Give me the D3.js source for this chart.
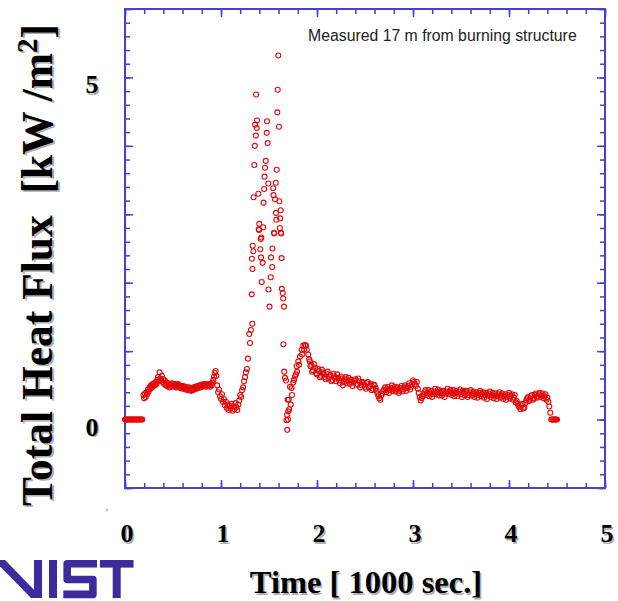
<!DOCTYPE html>
<html>
<head>
<meta charset="utf-8">
<script src="https://cdnjs.cloudflare.com/ajax/libs/d3/7.8.5/d3.min.js"></script>
<style>
  body { margin: 0; background: #fff; }
  svg { display: block; }
</style>
</head>
<body>
<div id="chart"></div>
<script>
// sample times, seconds
var timeSec = [
  0, 10, 20, 30, 40, 50, 60, 70, 80, 90, 100, 110, 120, 130, 140, 150, 160, 170, 180,
  192, 200, 208, 216, 224, 232, 240, 248, 256, 264,
  272, 280, 288, 296, 304, 312, 320, 328, 336, 344,
  352, 360, 368, 376, 384, 392, 400, 408, 416, 424,
  432, 440, 448, 456, 464, 472, 480, 488, 496, 504,
  512, 520, 528, 536, 544, 552, 560, 568, 576, 584,
  592, 600, 608, 616, 624, 632, 640, 648, 656, 664,
  672, 680, 688, 696, 704, 712, 720, 728, 736, 744,
  752, 760, 768, 776, 784, 792, 800, 808, 816, 824,
  832, 840, 848, 856, 864, 872, 880, 888, 896, 904,
  912, 920, 928, 936, 944, 952,
  960, 970, 980, 990, 1000, 1010, 1020, 1030, 1040, 1050, 1060, 1070, 1080, 1090, 1100,
  1110, 1120, 1130, 1140, 1150, 1160, 1170, 1180, 1190, 1200, 1210, 1220, 1230, 1240,
  1250, 1260, 1270, 1280,
  1295, 1302, 1312, 1320, 1322, 1326, 1328, 1330, 1337, 1339, 1347, 1352, 1356, 1363,
  1366, 1372, 1375, 1389, 1393, 1396, 1399, 1409, 1414, 1417, 1420, 1424, 1434, 1440,
  1443, 1450, 1453, 1458, 1466, 1476, 1479, 1486, 1493, 1495, 1505, 1518, 1521, 1534,
  1536, 1544, 1547, 1552, 1555, 1563, 1571, 1573, 1576, 1580, 1587, 1591, 1597, 1604,
  1607, 1613, 1616, 1621, 1624, 1627, 1631, 1634, 1643, 1648, 1650, 1656, 1658, 1667, 1677,
  1682, 1688, 1690, 1694, 1698, 1701, 1706, 1711, 1719, 1726, 1736, 1740, 1753, 1760,
  1771, 1781, 1788, 1792, 1805, 1813, 1823, 1841, 1844, 1857, 1865, 1875, 1885, 1893,
  1909, 1918, 1927, 1932,
  1940, 1950, 1960, 1970, 1980, 1990, 2000, 2010, 2020, 2030, 2040, 2050, 2060, 2070, 2080, 2090, 2100, 2110, 2120, 2130,
  2140, 2150, 2160, 2170, 2180, 2190, 2200, 2210, 2220, 2230, 2240, 2250, 2260, 2270, 2280, 2290, 2300, 2310, 2320, 2330,
  2340, 2350, 2360, 2370, 2380, 2390, 2400, 2410, 2420, 2430, 2440, 2450, 2460, 2470, 2480, 2490, 2500, 2510, 2520, 2530,
  2540, 2550, 2560, 2570, 2580, 2590, 2600, 2610, 2620, 2630, 2640, 2650, 2660, 2670, 2680, 2690, 2700, 2710, 2720, 2730,
  2740, 2750, 2760, 2770, 2780, 2790, 2800, 2810, 2820, 2830, 2840, 2850, 2860, 2870, 2880, 2890, 2900, 2910, 2920, 2930,
  2940, 2950, 2960, 2970, 2980, 2990, 3000, 3010, 3020, 3030, 3040, 3050, 3060, 3070, 3080, 3090, 3100, 3110, 3120, 3130,
  3140, 3150, 3160, 3170, 3180, 3190, 3200, 3210, 3220, 3230, 3240, 3250, 3260, 3270, 3280, 3290, 3300, 3310, 3320, 3330,
  3340, 3350, 3360, 3370, 3380, 3390, 3400, 3410, 3420, 3430, 3440, 3450, 3460, 3470, 3480, 3490, 3500, 3510, 3520, 3530,
  3540, 3550, 3560, 3570, 3580, 3590, 3600, 3610, 3620, 3630, 3640, 3650, 3660, 3670, 3680, 3690, 3700, 3710, 3720, 3730,
  3740, 3750, 3760, 3770, 3780, 3790, 3800, 3810, 3820, 3830, 3840, 3850, 3860, 3870, 3880, 3890, 3900, 3910, 3920, 3930,
  3940, 3950, 3960, 3970, 3980, 3990, 4000, 4010, 4020, 4030, 4040, 4050, 4060, 4070, 4080, 4090, 4100, 4110, 4120, 4130,
  4140, 4150, 4160, 4170, 4180, 4190, 4200, 4210, 4220, 4230, 4240, 4250, 4260, 4270, 4280, 4290, 4300, 4310, 4320, 4330,
  4340, 4350, 4360, 4370, 4380, 4390, 4400,
  4410, 4420, 4430,
  4440, 4450, 4460, 4470, 4480, 4490, 4500
];

// total heat flux, kW/m2
var fluxKW = [
  0, 0, 0, 0, 0, 0, 0, 0, 0, 0, 0, 0, 0, 0, 0, 0, 0, 0, 0,
  0.36, 0.31, 0.38, 0.33, 0.40, 0.37, 0.44, 0.41, 0.47, 0.45,
  0.50, 0.47, 0.52, 0.49, 0.53, 0.50, 0.55, 0.52, 0.58, 0.62,
  0.56, 0.69, 0.60, 0.57, 0.64, 0.55, 0.59, 0.52, 0.57, 0.50,
  0.54, 0.49, 0.53, 0.50, 0.47, 0.52, 0.49, 0.53, 0.50, 0.48,
  0.52, 0.49, 0.51, 0.47, 0.50, 0.52, 0.48, 0.50, 0.46, 0.49,
  0.47, 0.45, 0.49, 0.46, 0.48, 0.44, 0.47, 0.45, 0.43, 0.47,
  0.44, 0.46, 0.42, 0.45, 0.43, 0.47, 0.44, 0.46, 0.48, 0.45,
  0.49, 0.46, 0.48, 0.50, 0.47, 0.49, 0.51, 0.48, 0.50, 0.52,
  0.49, 0.51, 0.48, 0.50, 0.52, 0.49, 0.51, 0.48, 0.52, 0.50,
  0.54, 0.58, 0.63, 0.68, 0.71, 0.64,
  0.50, 0.40, 0.44, 0.34, 0.30, 0.37, 0.26, 0.30, 0.21, 0.26, 0.17, 0.22, 0.14, 0.20, 0.16,
  0.23, 0.13, 0.19, 0.15, 0.24, 0.18, 0.14, 0.22, 0.28, 0.36, 0.33, 0.43, 0.47, 0.56,
  0.62, 0.69, 0.74, 0.89,
  1.25, 1.12, 1.31, 1.83, 2.35, 1.40, 2.20, 2.54, 2.46, 3.25, 3.72, 4.00, 4.31, 4.15,
  4.75, 4.26, 4.37, 3.30, 2.78, 2.77, 2.86, 2.49, 2.64, 2.37, 2.66, 2.01, 2.29, 2.81,
  3.17, 3.37, 3.55, 3.68, 3.78, 4.19, 4.36, 4.04, 3.45, 1.90, 1.65, 2.08, 2.37, 2.23,
  2.50, 3.38, 3.28, 2.73, 2.72, 3.22, 3.46, 3.02, 2.92, 3.65, 4.49, 4.82, 5.32, 4.28,
  3.19, 2.80, 2.94, 3.06, 2.73, 2.72, 2.36, 1.91, 1.85, 1.77, 1.10, 1.65, 0.70, 0.61, 0.57,
  -0.01, 0.07, -0.15, 0.29, 0.00, 0.12, 0.29, 0.15, 0.48, 0.22, 0.46, 0.36, 0.54, 0.58,
  0.63, 0.66, 0.78, 0.70, 0.85, 0.80, 0.92, 1.02, 0.95, 1.08, 1.02, 1.09, 1.08, 1.02,
  0.95, 0.88, 0.85, 0.78,
  0.80, 0.70, 0.72, 0.81, 0.76, 0.68, 0.66, 0.74, 0.71, 0.62, 0.64, 0.73, 0.69, 0.66, 0.62, 0.59, 0.67, 0.70, 0.60, 0.63,
  0.65, 0.56, 0.58, 0.67, 0.63, 0.60, 0.56, 0.66, 0.61, 0.57, 0.53, 0.63, 0.60, 0.50, 0.55, 0.59, 0.62, 0.53, 0.57, 0.61,
  0.52, 0.55, 0.58, 0.49, 0.54, 0.57, 0.59, 0.52, 0.51, 0.60, 0.56, 0.47, 0.50, 0.54, 0.55, 0.51, 0.48, 0.45, 0.53, 0.55,
  0.47, 0.49, 0.52, 0.43, 0.45, 0.51, 0.50, 0.46, 0.42, 0.38, 0.34, 0.31, 0.29, 0.35, 0.38, 0.42, 0.44, 0.47, 0.40, 0.44,
  0.48, 0.39, 0.43, 0.46, 0.50, 0.42, 0.45, 0.48, 0.41, 0.44, 0.47, 0.39, 0.42, 0.46, 0.49, 0.41, 0.44, 0.47, 0.50, 0.42,
  0.46, 0.49, 0.53, 0.44, 0.48, 0.52, 0.57, 0.55, 0.52, 0.49, 0.55, 0.45, 0.39, 0.33, 0.28, 0.31, 0.34, 0.37, 0.40, 0.43,
  0.36, 0.39, 0.43, 0.34, 0.38, 0.42, 0.33, 0.37, 0.41, 0.45, 0.37, 0.40, 0.44, 0.35, 0.39, 0.42, 0.35, 0.38, 0.42, 0.33,
  0.38, 0.41, 0.45, 0.37, 0.40, 0.43, 0.36, 0.39, 0.43, 0.34, 0.39, 0.42, 0.34, 0.38, 0.41, 0.44, 0.37, 0.33, 0.42, 0.39,
  0.35, 0.42, 0.40, 0.33, 0.36, 0.40, 0.43, 0.35, 0.38, 0.41, 0.33, 0.37, 0.40, 0.32, 0.36, 0.39, 0.42, 0.34, 0.37, 0.40,
  0.32, 0.36, 0.39, 0.30, 0.35, 0.38, 0.41, 0.33, 0.36, 0.39, 0.31, 0.35, 0.38, 0.30, 0.34, 0.37, 0.40, 0.32, 0.35, 0.38,
  0.30, 0.34, 0.37, 0.29, 0.33, 0.36, 0.39, 0.31, 0.34, 0.37, 0.29, 0.32, 0.36, 0.25, 0.27, 0.23, 0.20, 0.18, 0.15, 0.21,
  0.23, 0.16, 0.18, 0.24, 0.28, 0.31, 0.33, 0.27, 0.29, 0.34, 0.36, 0.29, 0.31, 0.36, 0.38, 0.32, 0.34, 0.37, 0.39, 0.33,
  0.35, 0.38, 0.31, 0.34, 0.37, 0.29, 0.32,
  0.26, 0.19, 0.10,
  0, 0, 0, 0, 0, 0, 0
];

var xTickLabels = [0, 1, 2, 3, 4, 5];   // thousands of seconds
var yTickLabels = [0, 5];
var xTitle = "Time [ 1000 sec.]";
var yTitle = "Total Heat Flux  [kW /m";
var note = "Measured 17 m from burning structure";

var W = 618, H = 601;
var margin = { top: 9, right: 13, bottom: 113, left: 125 },
    width = W - margin.left - margin.right,
    height = H - margin.top - margin.bottom;

var axisBlue = "#4242d6",
    serif = "'Liberation Serif', 'Times New Roman', serif";

var svg = d3.select("#chart").append("svg")
    .attr("width", W)
    .attr("height", H);

var g = svg.append("g")
    .attr("transform", "translate(" + margin.left + "," + margin.top + ")");

var x = d3.scaleLinear().domain([0, 5]).range([0, width]);
var y = d3.scaleLinear().domain([-1, 6]).range([height, 0]);

// === frame with inward ticks on all four sides
function tickAxis(axisFn, scale, count, size, tr) {
  var a = g.append("g")
      .attr("transform", tr)
      .call(axisFn(scale).ticks(count).tickSize(-size).tickFormat(""));
  a.select(".domain").remove();
  a.selectAll("line").attr("stroke", axisBlue).attr("stroke-width", 1.5);
}
tickAxis(d3.axisBottom, x, 25, 5, "translate(0," + height + ")");
tickAxis(d3.axisBottom, x, 5, 8, "translate(0," + height + ")");
tickAxis(d3.axisTop, x, 25, 5, "translate(0,0)");
tickAxis(d3.axisTop, x, 5, 8, "translate(0,0)");
tickAxis(d3.axisLeft, y, 35, 5, "translate(0,0)");
tickAxis(d3.axisLeft, y, 7, 8, "translate(0,0)");
tickAxis(d3.axisRight, y, 35, 5, "translate(" + width + ",0)");
tickAxis(d3.axisRight, y, 7, 8, "translate(" + width + ",0)");

g.append("rect")
    .attr("width", width)
    .attr("height", height)
    .attr("fill", "none")
    .attr("stroke", axisBlue)
    .attr("stroke-width", 2);

// === data points
g.selectAll("circle")
  .data(timeSec).enter()
    .append("circle")
    .attr("cx", function(d) { return x(d / 1000); })
    .attr("cy", function(d, i) { return y(fluxKW[i]); })
    .attr("r", 2.5)
    .attr("fill", "none")
    .attr("stroke", "#e10a0a")
    .attr("stroke-width", 1.1);

// === labels (bold serif with a faint shadow)
function boldSerif(sel) {
  return sel.attr("font-family", serif).attr("font-weight", "bold");
}
[["#b0b0b0", 1.5], ["#000", 0]].forEach(function(s) {
  boldSerif(g.selectAll(null).data(xTickLabels).enter().append("text"))
      .attr("x", function(d) { return x(d) + 2 + s[1]; })
      .attr("y", height + 54 + s[1])
      .attr("text-anchor", "middle")
      .attr("font-size", 26)
      .attr("fill", s[0])
      .text(function(d) { return d; });

  boldSerif(g.selectAll(null).data(yTickLabels).enter().append("text"))
      .attr("x", -33 + s[1])
      .attr("y", function(d) { return y(d) + 16 + s[1]; })
      .attr("text-anchor", "middle")
      .attr("font-size", 26)
      .attr("fill", s[0])
      .text(function(d) { return d; });

  boldSerif(svg.append("text"))
      .attr("x", 366 + s[1])
      .attr("y", 593 + s[1])
      .attr("text-anchor", "middle")
      .attr("font-size", 32.5)
      .attr("fill", s[0])
      .text(xTitle);

  var yt = boldSerif(svg.append("text"))
      .attr("transform", "translate(" + (52 + s[1]) + "," + (265 + s[1]) + ") rotate(-90)")
      .attr("text-anchor", "middle")
      .attr("font-size", 43.5)
      .style("white-space", "pre")
      .attr("fill", s[0]);
  yt.append("tspan").text(yTitle);
  yt.append("tspan").attr("dy", -15).attr("font-size", 29).text("2");
  yt.append("tspan").attr("dy", 15).text("]");
});

// annotation
svg.append("text")
    .attr("x", 308)
    .attr("y", 41)
    .attr("font-family", "'Liberation Sans', Arial, sans-serif")
    .attr("font-size", 15.8)
    .attr("fill", "#222")
    .text(note);

// small stray mark left of the axis
svg.append("text")
    .attr("x", 106)
    .attr("y", 516)
    .attr("font-family", serif)
    .attr("font-size", 10)
    .attr("fill", "#444")
    .text("'");

// === NIST logo, bottom left
var logo = svg.append("g")
    .attr("fill", "#3d2a9c")
    .attr("stroke", "#3d2a9c");
logo.append("path")
    .attr("stroke", "none")
    .attr("d", "M-6,560 L5,560 L42,598 L31,598 Z");
logo.append("rect").attr("stroke", "none").attr("x", 34).attr("y", 560).attr("width", 8).attr("height", 38);
logo.append("rect").attr("stroke", "none").attr("x", 49).attr("y", 560).attr("width", 8).attr("height", 38);
logo.append("path")
    .attr("fill", "none")
    .attr("stroke-width", 7.6)
    .attr("stroke-linejoin", "round")
    .attr("d", "M97,563.8 L67.2,563.8 L67.2,579.5 L92.9,579.5 L92.9,594.4 L63.3,594.4");
logo.append("rect").attr("stroke", "none").attr("x", 100).attr("y", 560).attr("width", 33.5).attr("height", 7.6);
logo.append("rect").attr("stroke", "none").attr("x", 112.7).attr("y", 560).attr("width", 8).attr("height", 38);
</script>
</body>
</html>
